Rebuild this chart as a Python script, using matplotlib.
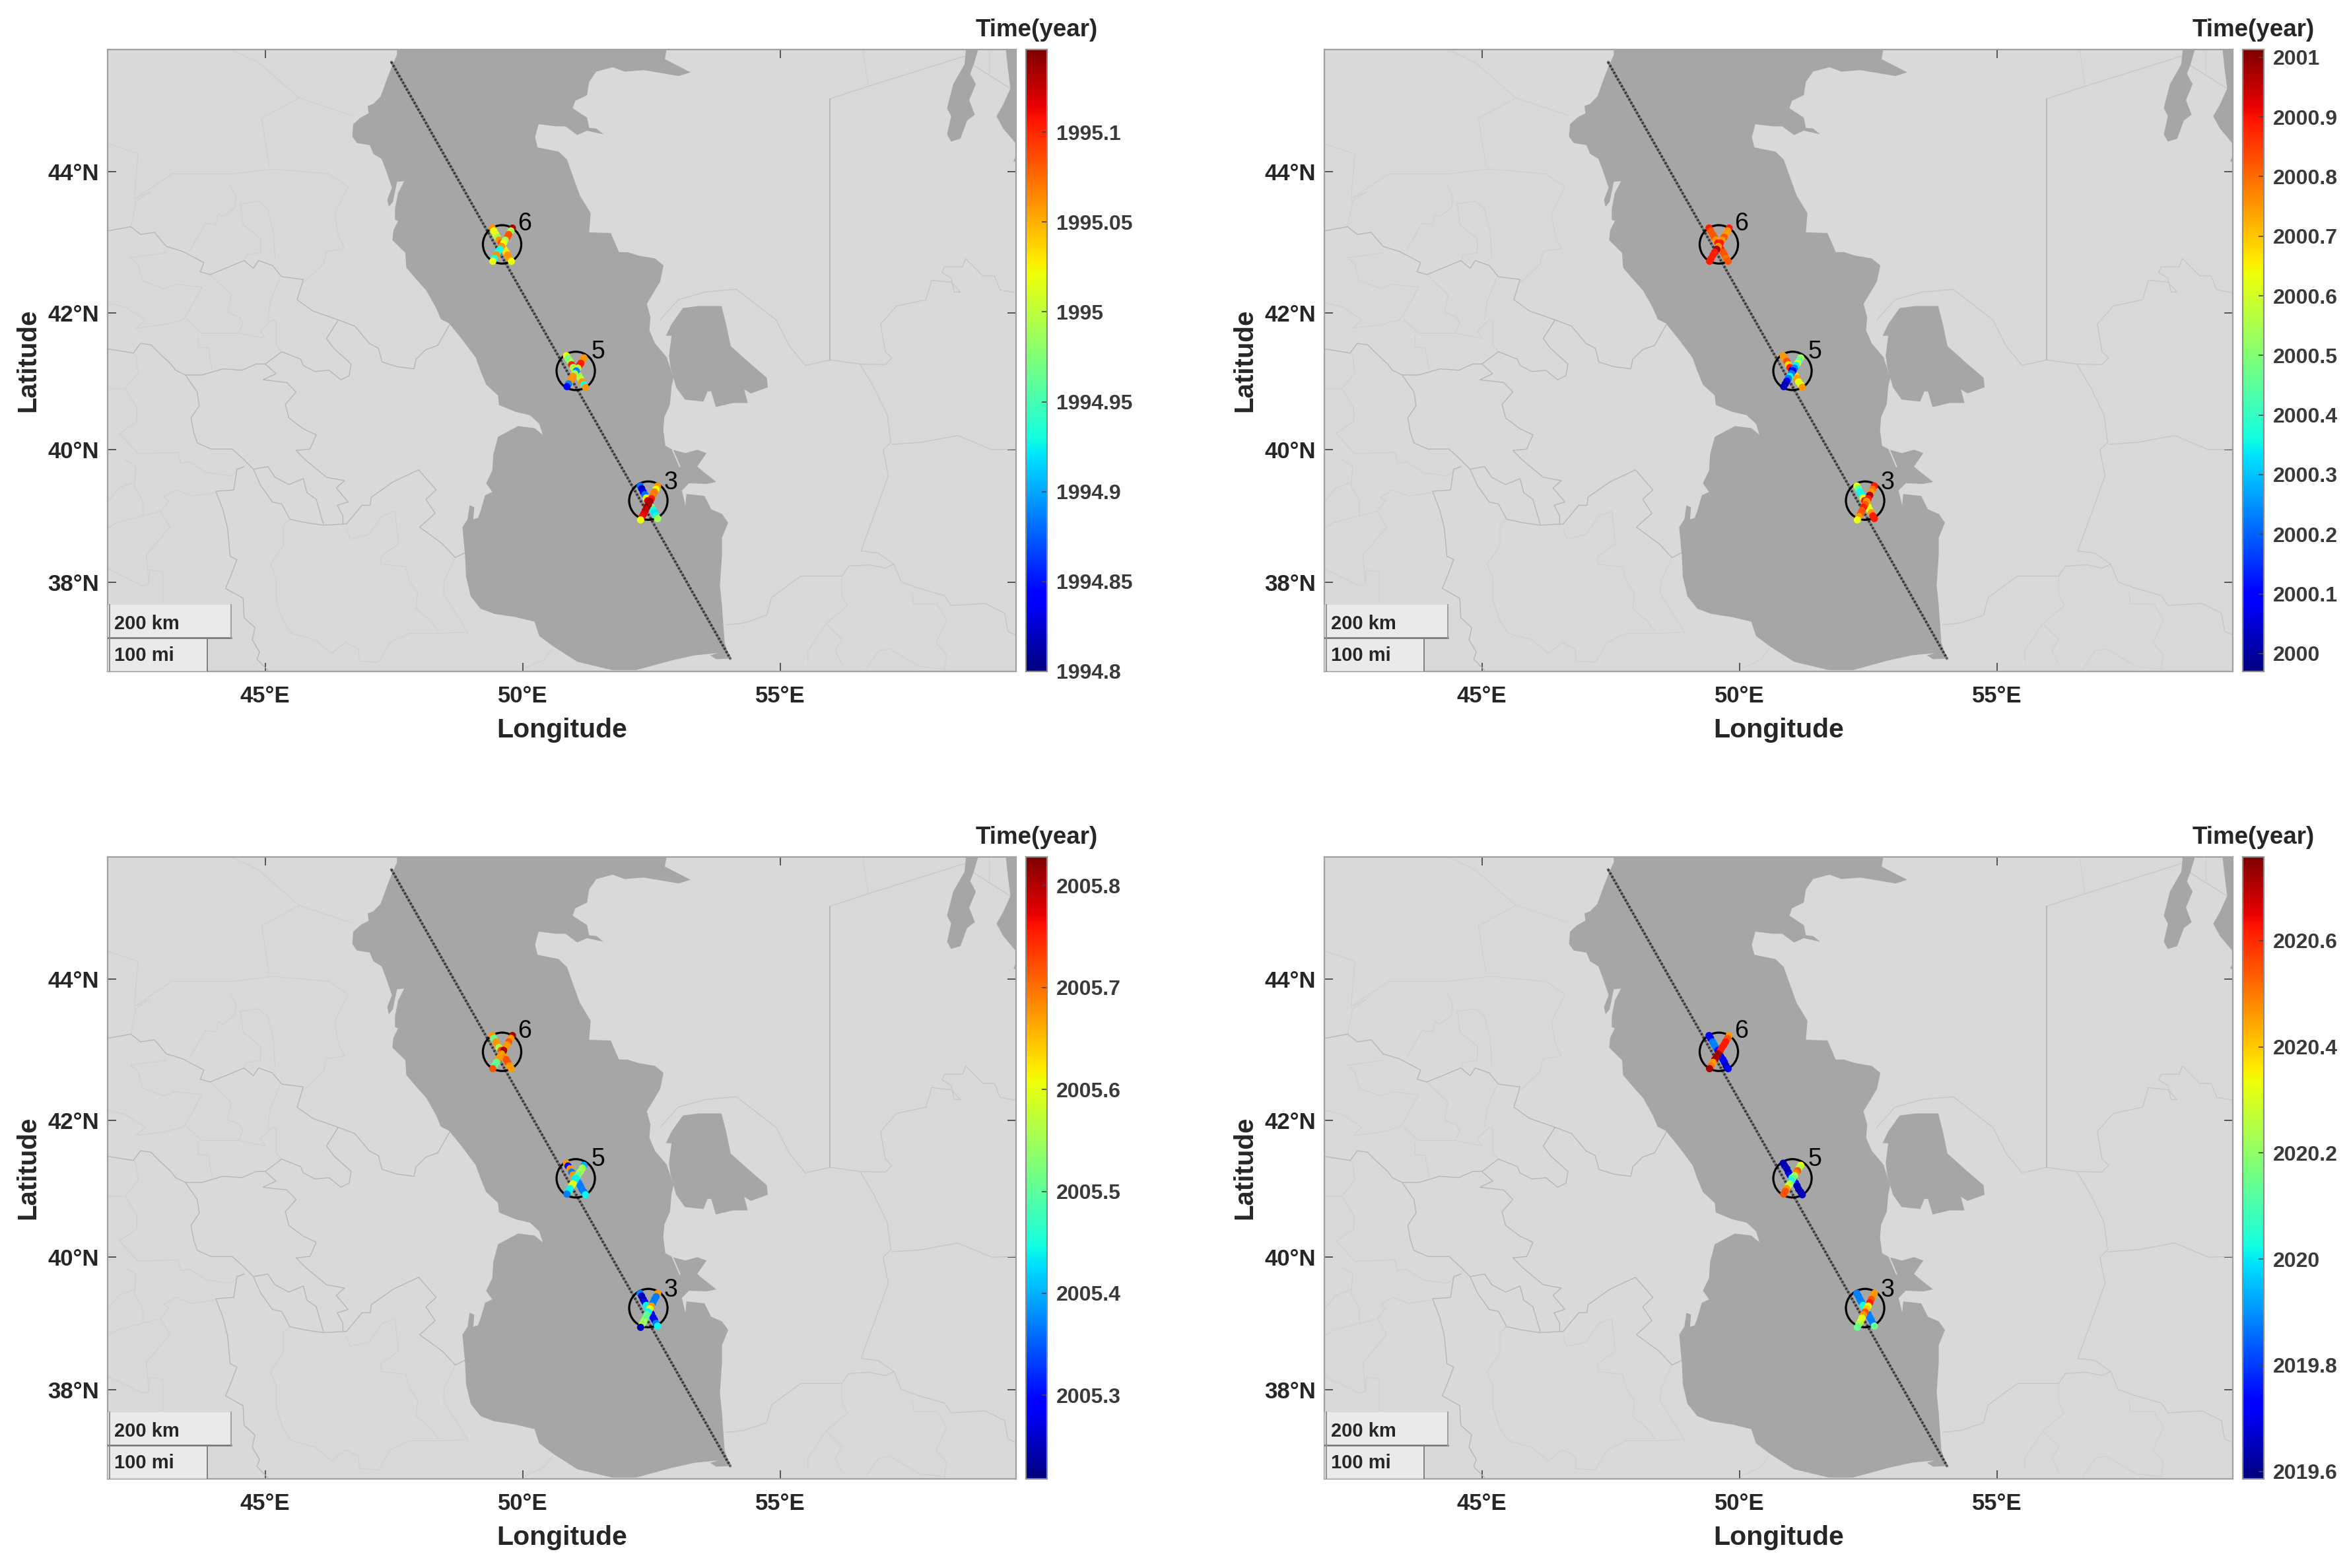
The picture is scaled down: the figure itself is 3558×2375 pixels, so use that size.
import numpy as np
import matplotlib
matplotlib.use('Agg')
import matplotlib.pyplot as plt
from matplotlib.patches import Rectangle

plt.rcParams['font.family'] = ['Liberation Sans', 'DejaVu Sans']

W = 3558
H = 2375

# map outlines, (lon, lat)
sea_outline = [(47.55, 46.0), (47.56, 45.61), (47.47, 45.47), (47.38, 45.31), (47.24, 45.04), (47.10, 44.94),
    (46.99, 44.91), (47.01, 44.81), (46.85, 44.75), (46.71, 44.66), (46.69, 44.49), (46.78, 44.40), (47.03, 44.37),
    (47.10, 44.25), (47.26, 44.18), (47.35, 44.01), (47.46, 43.78), (47.37, 43.61), (47.40, 43.51), (47.48, 43.58),
    (47.56, 43.86), (47.70, 43.87), (47.58, 43.70), (47.52, 43.48), (47.52, 43.33), (47.58, 43.31), (47.49, 43.18),
    (47.47, 43.04), (47.72, 42.86), (47.74, 42.65), (47.90, 42.51), (48.13, 42.32), (48.32, 42.07), (48.41, 41.91),
    (48.57, 41.85), (48.82, 41.62), (49.09, 41.35), (49.18, 41.16), (49.29, 40.96), (49.52, 40.80), (49.54, 40.66),
    (49.86, 40.56), (50.14, 40.51), (50.32, 40.385), (50.39, 40.22), (50.23, 40.32), (49.91, 40.35), (49.52, 40.19),
    (49.43, 39.93), (49.41, 39.69), (49.29, 39.50), (49.41, 39.37), (49.27, 39.32), (49.18, 39.08), (49.13, 38.98),
    (49.04, 38.96), (49.06, 39.14), (48.97, 39.17), (48.93, 38.96), (48.83, 38.84), (48.88, 38.42), (48.90, 38.09),
    (48.99, 37.79), (49.18, 37.60), (49.45, 37.52), (49.86, 37.47), (50.23, 37.40), (50.32, 37.18), (50.60, 37.015),
    (51.06, 36.78), (51.74, 36.65), (52.20, 36.65), (52.89, 36.80), (53.34, 36.88), (53.80, 36.915), (53.64, 36.88),
    (53.76, 36.82), (54.01, 36.83), (53.99, 36.915), (53.92, 37.08), (53.87, 37.65), (53.83, 37.95), (53.87, 38.42),
    (53.87, 38.68), (53.99, 38.91), (53.87, 39.04), (53.66, 39.11), (53.53, 39.31), (53.18, 39.34), (53.16, 39.17),
    (53.09, 39.39), (53.23, 39.50), (53.57, 39.49), (53.76, 39.52), (53.48, 39.69), (53.39, 39.75), (53.57, 39.95),
    (53.39, 40.00), (53.16, 39.95), (52.91, 40.00), (52.77, 40.06), (52.73, 40.29), (52.75, 40.48), (52.86, 40.67),
    (52.89, 40.93), (52.93, 41.06), (52.80, 41.35), (52.83, 41.33), (52.57, 41.56), (52.46, 41.75), (52.48, 41.94),
    (52.41, 42.13), (52.67, 42.45), (52.735, 42.68), (52.57, 42.78), (52.25, 42.82), (52.03, 42.87), (51.87, 42.87),
    (51.71, 43.14), (51.29, 43.15), (51.32, 43.42), (51.11, 43.67), (50.97, 43.95), (50.86, 44.17), (50.70, 44.28),
    (50.29, 44.34), (50.24, 44.48), (50.31, 44.66), (50.65, 44.63), (50.83, 44.63), (51.06, 44.51), (51.25, 44.57),
    (51.57, 44.52), (51.43, 44.60), (51.29, 44.61), (51.25, 44.75), (50.97, 44.88), (51.02, 44.98), (51.25, 45.06),
    (51.29, 45.24), (51.43, 45.38), (51.75, 45.44), (51.98, 45.38), (52.35, 45.40), (53.03, 45.32), (53.26, 45.37),
    (52.76, 45.55), (52.80, 45.705), (52.9, 46.0)]
bay_outline = [(52.78, 41.67), (52.89, 41.84), (53.11, 42.07), (53.42, 42.10), (53.86, 42.10), (53.95, 41.84),
    (54.04, 41.52), (54.43, 41.26), (54.74, 41.06), (54.76, 40.92), (54.43, 40.83), (54.30, 40.89), (54.37, 40.69),
    (54.08, 40.69), (53.75, 40.63), (53.66, 40.86), (53.59, 40.86), (53.51, 40.71), (53.15, 40.74), (52.98, 40.92),
    (52.87, 41.21), (52.84, 41.38), (52.89, 41.67)]
aral_a = [(58.65, 46.0), (58.98, 46.0), (58.76, 45.48), (58.69, 45.35), (58.80, 45.21), (58.67, 44.99), (58.78, 44.79),
    (58.63, 44.71), (58.50, 44.46), (58.32, 44.42), (58.24, 44.52), (58.32, 44.77), (58.24, 44.88), (58.36, 45.21),
    (58.58, 45.48)]
aral_b = [(59.33, 46.0), (59.8, 46.0), (59.8, 44.3), (59.59, 44.38), (59.33, 44.6), (59.2, 44.77), (59.33, 44.93),
    (59.47, 45.15), (59.42, 45.43)]
aral_c = [(59.53, 44.15), (59.59, 44.24), (59.7, 44.24), (59.7, 44.10)]
spit = [(52.91, 40.0), (53.05, 39.75)]

# borders
dark_1 = [(41.94, 43.17), (42.39, 43.23), (42.58, 43.12), (42.85, 43.15), (43.08, 42.95), (43.40, 42.88), (43.81, 42.72),
    (43.74, 42.59), (43.93, 42.55), (44.23, 42.64), (44.59, 42.75), (44.77, 42.64), (44.87, 42.75), (45.14, 42.68),
    (45.32, 42.52), (45.74, 42.48), (45.62, 42.19), (45.92, 42.03), (46.42, 41.90), (46.74, 41.81), (47.02, 41.56),
    (47.20, 41.49), (47.27, 41.29), (47.57, 41.22), (47.89, 41.19), (47.93, 41.33), (48.12, 41.47), (48.35, 41.53),
    (48.58, 41.83)]
dark_2 = [(41.94, 41.48), (42.44, 41.42), (42.58, 41.56), (42.78, 41.54), (42.94, 41.42), (43.17, 41.26), (43.26, 41.17),
    (43.45, 41.10), (43.77, 41.10), (44.18, 41.19), (44.55, 41.17), (44.82, 41.26), (45.00, 41.26), (45.32, 41.44),
    (45.69, 41.33), (45.74, 41.24), (45.97, 41.15), (46.24, 41.17), (46.47, 41.03), (46.63, 41.09), (46.67, 41.26),
    (46.33, 41.49), (46.19, 41.63), (46.42, 41.90)]
dark_3 = [(43.45, 41.10), (43.68, 40.85), (43.72, 40.65), (43.56, 40.47), (43.61, 40.26), (43.68, 40.10), (43.95, 40.01),
    (44.36, 40.01), (44.59, 39.85), (44.77, 39.71), (45.05, 39.75), (45.19, 39.59), (45.46, 39.48), (45.74, 39.57),
    (45.81, 39.36), (45.99, 39.26), (46.13, 38.89)]
dark_4 = [(45.00, 41.26), (45.21, 41.12), (44.96, 41.03), (45.19, 41.01), (45.42, 40.99), (45.60, 40.85), (45.39, 40.67),
    (45.46, 40.47), (45.74, 40.31), (45.99, 40.22), (45.87, 40.01), (45.60, 39.99), (45.78, 39.85), (46.19, 39.59),
    (46.54, 39.54), (46.38, 39.43), (46.61, 39.22), (46.40, 39.17), (46.51, 39.01), (46.51, 38.89)]
dark_5 = [(44.59, 39.75), (44.45, 39.71), (44.39, 39.40), (44.04, 39.38), (44.18, 39.10), (44.27, 38.82), (44.32, 38.40),
    (44.45, 38.35), (44.34, 38.12), (44.23, 37.91), (44.57, 37.76), (44.59, 37.46), (44.80, 37.31), (44.75, 37.12),
    (44.89, 36.93), (44.84, 36.82), (45.05, 36.65)]
dark_6 = [(44.77, 39.71), (44.91, 39.47), (45.14, 39.22), (45.32, 39.19), (45.48, 38.96), (45.78, 38.91), (46.13, 38.87),
    (46.58, 38.89), (46.88, 39.17), (47.04, 39.17), (47.06, 39.29), (47.48, 39.52), (47.98, 39.70), (48.32, 39.40),
    (48.12, 39.26), (48.30, 39.05), (48.00, 38.84), (48.44, 38.59), (48.69, 38.38), (48.87, 38.45)]
dark_lines = [dark_1, dark_2, dark_3, dark_4, dark_5, dark_6]

light_1 = [(41.94, 40.90), (42.28, 40.90), (42.53, 41.13), (42.49, 41.38), (42.44, 41.42)]
light_2 = [(42.28, 40.90), (42.51, 40.62), (42.51, 40.42), (42.17, 40.24), (42.53, 39.94), (43.31, 39.96), (43.36, 39.80),
    (43.54, 39.82), (43.86, 39.66), (44.32, 39.61), (44.59, 39.75)]
light_3 = [(42.28, 39.85), (42.49, 39.75), (42.46, 39.45), (42.62, 39.24), (42.62, 39.01), (42.97, 39.08), (43.15, 38.84),
    (42.69, 38.42), (42.74, 37.98), (42.76, 38.19), (43.01, 38.17), (43.01, 37.69)]
light_4 = [(42.97, 39.08), (43.13, 39.24), (43.03, 39.29), (43.26, 39.40), (43.58, 39.31), (44.02, 39.36)]
light_5 = [(41.94, 39.22), (42.16, 39.43), (42.46, 39.52)]
light_6 = [(41.94, 38.82), (42.12, 38.91), (42.62, 39.01)]
light_7 = [(41.94, 38.21), (42.62, 37.95), (42.74, 37.98)]
light_8 = [(45.48, 38.96), (45.35, 38.87), (45.35, 38.56), (45.10, 38.28), (45.21, 38.07), (45.21, 37.74), (45.35, 37.41),
    (45.51, 37.22), (45.97, 37.12), (46.29, 36.91), (46.56, 37.08), (46.81, 36.98), (46.83, 36.79), (47.20, 36.77),
    (47.43, 37.08), (47.80, 37.22), (48.44, 37.22), (48.90, 37.24)]
light_9 = [(46.58, 38.80), (46.65, 38.66), (47.02, 38.73), (47.27, 39.01), (47.52, 39.08), (47.59, 38.59), (47.25, 38.40),
    (47.25, 38.28), (47.73, 38.24), (47.80, 38.03), (47.96, 37.84), (47.93, 37.60), (48.21, 37.41), (48.35, 37.26)]
light_10 = [(48.69, 38.38), (48.48, 38.03), (48.46, 37.83), (48.80, 37.41), (48.94, 37.22)]
light_11 = [(42.39, 43.23), (42.49, 43.59), (42.76, 43.72), (42.46, 43.62), (42.53, 44.25), (41.95, 44.39)]
light_12 = [(43.54, 42.90), (43.84, 43.28), (44.04, 43.26), (44.09, 43.41), (44.18, 43.37), (44.41, 43.50), (44.43, 43.66),
    (44.32, 43.81)]
light_13 = [(44.52, 43.55), (44.57, 43.26), (44.91, 43.06), (44.91, 42.86), (44.64, 42.83), (44.59, 42.75)]
light_14 = [(44.52, 43.55), (44.87, 43.59), (45.05, 43.48), (45.16, 43.15), (45.19, 42.77)]
light_15 = [(46.61, 43.79), (46.35, 43.41), (46.42, 43.10), (46.54, 42.92), (46.19, 42.88), (46.13, 42.70), (45.74, 42.43)]
light_16 = [(42.39, 42.79), (42.53, 42.70), (42.62, 42.46), (43.03, 42.35), (43.26, 42.41), (43.77, 42.37), (43.49, 41.99),
    (43.40, 41.90), (43.03, 41.83), (42.49, 41.78), (42.67, 41.90), (42.30, 42.08), (41.94, 42.15)]
light_17 = [(42.39, 42.79), (43.08, 42.86)]
light_18 = [(43.93, 42.55), (44.34, 42.26), (44.27, 42.01), (44.50, 41.94), (44.57, 41.85), (44.48, 41.71), (43.77, 41.71),
    (43.49, 41.90)]
light_19 = [(43.70, 41.67), (43.70, 41.51), (43.90, 41.49), (43.97, 41.17)]
light_20 = [(44.48, 41.71), (45.00, 41.63), (44.91, 41.74), (45.14, 41.90), (45.21, 41.88), (45.21, 41.53), (45.32, 41.44)]
light_21 = [(45.28, 42.49), (45.10, 42.17), (45.05, 41.90)]
light_22 = [(44.21, 45.72), (44.86, 45.51), (45.66, 45.02), (46.68, 44.78)]
light_23 = [(42.46, 43.62), (43.19, 43.97), (44.35, 43.97), (45.15, 44.04), (46.24, 43.97), (46.61, 43.79)]
light_24 = [(45.66, 45.02), (44.93, 44.74), (45.08, 44.08)]
light_25 = [(50.57, 36.98), (50.41, 36.81), (50.05, 36.68)]
light_26 = [(56.20, 38.10), (56.20, 37.80), (56.31, 37.65), (55.89, 37.37), (55.54, 36.95), (55.54, 36.77)]
light_27 = [(55.89, 37.37), (56.20, 37.13), (56.07, 36.95), (56.20, 36.74)]
light_28 = [(56.66, 36.66), (56.91, 36.95), (57.13, 36.98), (57.70, 36.71), (58.23, 36.66)]
light_29 = [(57.57, 37.83), (57.59, 37.67), (58.05, 37.67), (58.23, 37.43), (58.03, 37.07), (58.23, 36.89), (58.19, 36.66)]
light_30 = [(56.60, 45.705), (56.71, 45.18)]
light_31 = [(59.05, 45.9), (59.05, 45.37)]
light_lines = [light_1, light_2, light_3, light_4, light_5, light_6, light_7, light_8, light_9, light_10, light_11,
    light_12, light_13, light_14, light_15, light_16, light_17, light_18, light_19, light_20, light_21, light_22,
    light_23, light_24, light_25, light_26, light_27, light_28, light_29, light_30, light_31]

east_1 = [(52.67, 41.90), (53.02, 42.19), (53.55, 42.30), (54.15, 42.34), (54.92, 41.90), (55.18, 41.52), (55.49, 41.24),
    (55.97, 41.32), (55.97, 45.01), (56.71, 45.18), (58.58, 45.59), (58.72, 45.48), (59.47, 45.15), (59.59, 45.10)]
east_2 = [(55.97, 41.32), (56.55, 41.26), (57.04, 41.25), (57.17, 41.35), (57.04, 41.44), (56.95, 41.84), (57.26, 42.10),
    (57.83, 42.19), (57.94, 42.47), (58.32, 42.44), (58.50, 42.30), (58.38, 42.30), (58.32, 42.50), (58.14, 42.58),
    (58.19, 42.66), (58.54, 42.66), (58.60, 42.78), (58.94, 42.53), (59.16, 42.53), (59.27, 42.33), (59.59, 42.29)]
east_3 = [(56.55, 41.26), (56.82, 40.92), (57.08, 40.51), (57.15, 40.11), (57.00, 40.00), (57.10, 39.61), (56.57, 38.48),
    (56.90, 38.45), (57.21, 38.28), (57.35, 38.01), (57.66, 37.92), (58.19, 37.80), (58.32, 37.65), (58.98, 37.68),
    (59.36, 37.53), (59.42, 37.25), (59.59, 37.19)]
east_4 = [(57.17, 40.08), (57.74, 40.11), (58.45, 40.21), (59.11, 40.00), (59.59, 40.01)]
east_5 = [(53.95, 37.35), (54.30, 37.38), (54.74, 37.50), (54.83, 37.77), (55.40, 38.10), (56.20, 38.10), (56.33, 38.25),
    (56.73, 38.27), (57.04, 38.22), (57.21, 38.28)]
east_lines = [east_1, east_2, east_3, east_4, east_5]

# satellite track
track_lon = [47.45, 54.03]
track_lat = [45.51, 36.83]

# crossover circles
circle_lon = [49.60, 51.03, 52.44]
circle_lat = [42.98, 41.16, 39.24]
circle_names = ['6', '5', '3']
name_lon = [50.04, 51.47, 52.88]
name_lat = [43.27, 41.44, 39.51]

# points along the two passes in each circle
lon_d6 = [49.41, 49.44, 49.48, 49.51, 49.54, 49.58, 49.61, 49.64, 49.68, 49.71, 49.74, 49.78]
lat_d6 = [43.21, 43.17, 43.12, 43.08, 43.04, 43.00, 42.95, 42.91, 42.87, 42.83, 42.78, 42.74]
lon_a6 = [49.80, 49.77, 49.73, 49.70, 49.66, 49.63, 49.59, 49.56, 49.52, 49.49, 49.45, 49.42]
lat_a6 = [43.21, 43.17, 43.12, 43.08, 43.04, 43.00, 42.95, 42.91, 42.87, 42.83, 42.78, 42.74]
lon_d5 = [50.85, 50.88, 50.92, 50.95, 50.98, 51.02, 51.05, 51.09, 51.12, 51.15, 51.19, 51.22]
lat_d5 = [41.38, 41.34, 41.30, 41.25, 41.21, 41.17, 41.13, 41.09, 41.05, 41.00, 40.96, 40.92]
lon_a5 = [51.19, 51.16, 51.13, 51.10, 51.07, 51.04, 51.01, 50.98, 50.95, 50.92, 50.89, 50.86]
lat_a5 = [41.35, 41.31, 41.27, 41.24, 41.20, 41.16, 41.12, 41.08, 41.05, 41.01, 40.97, 40.93]
lon_d3 = [52.28, 52.31, 52.34, 52.37, 52.40, 52.43, 52.47, 52.50, 52.53, 52.56, 52.59, 52.62]
lat_d3 = [39.46, 39.42, 39.37, 39.33, 39.28, 39.24, 39.19, 39.15, 39.10, 39.06, 39.01, 38.97]
lon_a3 = [52.62, 52.59, 52.56, 52.53, 52.50, 52.47, 52.44, 52.41, 52.38, 52.35, 52.32, 52.29]
lat_a3 = [39.46, 39.41, 39.37, 39.32, 39.27, 39.23, 39.18, 39.14, 39.09, 39.04, 39.00, 38.95]
pass_lons = [lon_d6, lon_a6, lon_d5, lon_a5, lon_d3, lon_a3]
pass_lats = [lat_d6, lat_a6, lat_d5, lat_a5, lat_d3, lat_a3]

# time of each point, one list per pass, four panels
t1_d6 = [1995.06, 1995.02, 1995.02, 1994.99, 1995.06, 1995.085, 1995.07, 1995.02, 1995.03, 1995.06, 1995.06, 1995.02]
t1_a6 = [1995.135, 1994.99, 1995.085, 1995.085, 1994.99, 1995.02, 1995.06, 1994.93, 1994.93, 1995.06, 1994.93, 1995.02]
t1_d5 = [1995.02, 1994.97, 1994.99, 1995.105, 1994.99, 1995.02, 1994.89, 1994.99, 1995.0, 1995.06, 1994.93, 1995.06]
t1_a5 = [1995.06, 1995.06, 1995.105, 1995.105, 1995.0, 1994.89, 1994.99, 1995.06, 1995.06, 1995.06, 1994.89, 1994.84]
t1_d3 = [1994.88, 1994.82, 1994.83, 1994.88, 1995.02, 1995.12, 1995.13, 1994.97, 1994.93, 1994.92, 1994.93, 1994.99]
t1_a3 = [1995.06, 1995.02, 1995.07, 1995.07, 1995.105, 1995.13, 1995.135, 1995.135, 1995.125, 1995.115, 1995.11, 1995.02]

t2_d6 = [2000.89, 2000.825, 2000.825, 2000.825, 2000.75, 2000.89, 2000.89, 2000.89, 2000.825, 2000.825, 2000.8, 2000.825]
t2_a6 = [2000.89, 2000.75, 2000.75, 2000.825, 2000.75, 2000.89, 2000.75, 2000.98, 2000.89, 2000.89, 2000.89, 2000.89]
t2_d5 = [2000.75, 2000.75, 2000.825, 2000.68, 2000.89, 2000.095, 2000.75, 2000.68, 2000.75, 2000.63, 2000.63, 2000.75]
t2_a5 = [2000.54, 2000.46, 2000.63, 2000.355, 2000.23, 2000.095, 2000.23, 2000.355, 2000.23, 2000.095, 2000.02, 2000.02]
t2_d3 = [2000.63, 2000.46, 2000.355, 2000.355, 2000.63, 2000.89, 2000.75, 2000.63, 2000.63, 2000.75, 2000.89, 2000.89]
t2_a3 = [2000.89, 2000.8, 2000.75, 2000.98, 2000.89, 2000.75, 2000.825, 2000.89, 2000.825, 2000.825, 2000.75, 2000.63]

t3_d6 = [2005.675, 2005.505, 2005.675, 2005.675, 2005.55, 2005.72, 2005.81, 2005.675, 2005.72, 2005.72, 2005.675, 2005.675]
t3_a6 = [2005.81, 2005.675, 2005.72, 2005.675, 2005.675, 2005.81, 2005.675, 2005.675, 2005.675, 2005.505, 2005.505, 2005.72]
t3_d5 = [2005.675, 2005.29, 2005.675, 2005.37, 2005.675, 2005.44, 2005.37, 2005.37, 2005.37, 2005.37, 2005.37, 2005.44]
t3_a5 = [2005.4, 2005.55, 2005.55, 2005.55, 2005.505, 2005.44, 2005.44, 2005.6, 2005.6, 2005.44, 2005.44, 2005.37]
t3_d3 = [2005.37, 2005.25, 2005.25, 2005.29, 2005.44, 2005.44, 2005.37, 2005.29, 2005.29, 2005.29, 2005.37, 2005.44]
t3_a3 = [2005.675, 2005.37, 2005.37, 2005.37, 2005.675, 2005.6, 2005.44, 2005.505, 2005.505, 2005.55, 2005.55, 2005.25]

t4_d6 = [2019.725, 2019.725, 2019.88, 2019.88, 2019.88, 2019.725, 2019.725, 2019.725, 2019.725, 2019.725, 2019.645, 2019.725]
t4_a6 = [2020.465, 2020.55, 2020.62, 2020.62, 2020.62, 2020.62, 2020.725, 2020.725, 2020.725, 2020.465, 2020.5, 2020.725]
t4_d5 = [2019.645, 2019.645, 2019.645, 2019.645, 2019.7, 2020.02, 2019.645, 2019.725, 2019.645, 2019.645, 2019.645, 2019.645]
t4_a5 = [2020.32, 2020.23, 2020.55, 2020.5, 2020.23, 2020.14, 2020.02, 2020.23, 2020.28, 2020.465, 2020.55, 2020.55]
t4_d3 = [2019.88, 2019.88, 2019.88, 2019.88, 2020.02, 2020.02, 2020.32, 2019.88, 2019.88, 2019.88, 2019.88, 2020.14]
t4_a3 = [2020.465, 2020.465, 2020.55, 2020.62, 2020.32, 2020.4, 2020.55, 2020.465, 2020.32, 2020.32, 2020.23, 2020.14]

panel_times = [[t1_d6, t1_a6, t1_d5, t1_a5, t1_d3, t1_a3],
               [t2_d6, t2_a6, t2_d5, t2_a5, t2_d3, t2_a3],
               [t3_d6, t3_a6, t3_d5, t3_a5, t3_d3, t3_a3],
               [t4_d6, t4_a6, t4_d5, t4_a5, t4_d3, t4_a3]]

# colorbar limits and ticks
cbar_min = [1994.8, 1999.97, 2005.218, 2019.586]
cbar_max = [1995.146, 2001.013, 2005.828, 2020.758]
cbar_ticks = [[1994.8, 1994.85, 1994.9, 1994.95, 1995, 1995.05, 1995.1],
              [2000, 2000.1, 2000.2, 2000.3, 2000.4, 2000.5, 2000.6, 2000.7, 2000.8, 2000.9, 2001],
              [2005.3, 2005.4, 2005.5, 2005.6, 2005.7, 2005.8],
              [2019.6, 2019.8, 2020, 2020.2, 2020.4, 2020.6]]
cbar_labels = [['1994.8', '1994.85', '1994.9', '1994.95', '1995', '1995.05', '1995.1'],
               ['2000', '2000.1', '2000.2', '2000.3', '2000.4', '2000.5', '2000.6', '2000.7', '2000.8', '2000.9', '2001'],
               ['2005.3', '2005.4', '2005.5', '2005.6', '2005.7', '2005.8'],
               ['2019.6', '2019.8', '2020', '2020.2', '2020.4', '2020.6']]

lon_ticks = [45, 50, 55]
lon_labels = ['45°E', '50°E', '55°E']
lat_ticks = [38, 40, 42, 44]
lat_labels = ['38°N', '40°N', '42°N', '44°N']

TEXT = '#262626'
LAND = '#d9d9d9'
SEA = '#a6a6a6'


def merc(lat):
    lat = np.clip(lat, -85, 85)
    return np.log(np.tan(np.radians(45 + lat / 2)))


def inv_merc(y):
    return 2 * np.degrees(np.arctan(np.exp(y))) - 90


def px_axes(x0, y0, x1, y1):
    return [x0 / W, 1 - y1 / H, (x1 - x0) / W, (y1 - y0) / H]


def draw_line(ax, pts, color, lw):
    ax.plot([p[0] for p in pts], [p[1] for p in pts], color=color, lw=lw, zorder=2, solid_joinstyle='round')


def draw_panel(i, x_off, y_off):
    ax = plt.gcf().add_axes(px_axes(163 + x_off, 75 + y_off, 1539 + x_off, 1017 + y_off))
    ax.set_facecolor(LAND)
    ax.set_yscale('function', functions=(merc, inv_merc))

    for line in light_lines:
        draw_line(ax, line, '#cecece', 0.75)
    for line in dark_lines:
        draw_line(ax, line, '#b4b4b4', 0.95)
    for line in east_lines:
        draw_line(ax, line, '#c4c4c4', 0.85)
    ax.plot([55.97, 55.97], [41.32, 45.01], color='#b8b8b8', lw=1.5, zorder=2)

    for poly in [sea_outline, bay_outline, aral_a, aral_b, aral_c]:
        ax.fill([p[0] for p in poly], [p[1] for p in poly], color=SEA, lw=0, zorder=3)
    draw_line(ax, spit, LAND, 1.3)
    ax.lines[-1].set_zorder(3)

    ax.plot(track_lon, track_lat, color='#7d7d7d', lw=2.6, zorder=4)
    ax.plot(track_lon, track_lat, color='#2e2e2e', lw=2.8, ls=(0, (0.6, 0.9)), zorder=4)
    ax.scatter(circle_lon, circle_lat, s=1750, facecolors='none', edgecolors='black', linewidths=2.3, zorder=5)

    norm = plt.Normalize(cbar_min[i], cbar_max[i])
    for lons, lats, times in zip(pass_lons, pass_lats, panel_times[i]):
        sc = ax.scatter(lons, lats, c=times, s=62, cmap='jet', norm=norm, marker='o', linewidths=0, zorder=6)

    for x, y, name in zip(name_lon, name_lat, circle_names):
        ax.text(x, y, name, fontsize=27, color='black', ha='center', va='center', zorder=7)

    ax.set_xlim(41.94, 59.58)
    ax.set_ylim(36.63, 45.68)
    ax.set_xticks(lon_ticks)
    ax.set_xticklabels(lon_labels, fontsize=25, fontweight='bold', color=TEXT)
    ax.set_yticks(lat_ticks)
    ax.set_yticklabels(lat_labels, fontsize=25, fontweight='bold', color=TEXT)
    ax.minorticks_off()
    ax.tick_params(axis='both', which='major', direction='in', length=9.5, width=1.4, color='#555555',
                   top=True, right=True)
    ax.tick_params(axis='x', pad=15)
    ax.tick_params(axis='y', pad=9)
    for s in ax.spines.values():
        s.set_color('#a0a0a0')
        s.set_linewidth(1.6)
    ax.set_xlabel('Longitude', fontsize=29.5, fontweight='bold', color=TEXT, labelpad=11.5)
    ax.set_ylabel('Latitude', fontsize=29, fontweight='bold', color=TEXT, labelpad=8)

    # scale box
    ax.add_patch(Rectangle((0, 0.054), 0.136, 0.053, transform=ax.transAxes, facecolor='white', alpha=0.45,
                           edgecolor='none', zorder=8))
    ax.add_patch(Rectangle((0, 0), 0.11, 0.054, transform=ax.transAxes, facecolor='white', alpha=0.45,
                           edgecolor='none', zorder=8))
    ax.plot([0, 0.136], [0.054, 0.054], transform=ax.transAxes, color='#707070', lw=1.8, zorder=9)
    ax.plot([0.136, 0.136], [0.054, 0.107], transform=ax.transAxes, color='#a0a0a0', lw=1.4, zorder=9)
    ax.plot([0.11, 0.11], [0, 0.054], transform=ax.transAxes, color='#808080', lw=1.4, zorder=9)
    ax.plot([0.002, 0.002], [0, 0.107], transform=ax.transAxes, color='#909090', lw=1.4, zorder=9)
    ax.text(0.0075, 0.076, '200 km', transform=ax.transAxes, fontsize=21, fontweight='bold', color=TEXT,
            va='center', zorder=10)
    ax.text(0.0075, 0.025, '100 mi', transform=ax.transAxes, fontsize=21, fontweight='bold', color=TEXT,
            va='center', zorder=10)

    # colorbar
    cax = plt.gcf().add_axes(px_axes(1554 + x_off, 75 + y_off, 1586 + x_off, 1017 + y_off))
    cb = plt.colorbar(sc, cax=cax)
    cb.set_ticks(cbar_ticks[i])
    cb.set_ticklabels(cbar_labels[i], fontsize=23, fontweight='bold', color='#3a3a3a')
    cax.minorticks_off()
    cax.tick_params(direction='in', length=6, width=1.2, color='#444444', pad=10)
    cb.outline.set_edgecolor('#8c8c8c')
    cb.outline.set_linewidth(1.6)
    plt.gcf().text((1663 + x_off) / W, 1 - (55 + y_off) / H, 'Time(year)', fontsize=26.5, fontweight='bold',
                   color=TEXT, ha='right', va='baseline')


def main():
    plt.figure(figsize=(W / 100, H / 100), dpi=100)
    draw_panel(0, 0, 0)
    draw_panel(1, 1843, 0)
    draw_panel(2, 0, 1223)
    draw_panel(3, 1843, 1223)
    plt.savefig('out.png', dpi=100)


if __name__ == "__main__":
    main()
